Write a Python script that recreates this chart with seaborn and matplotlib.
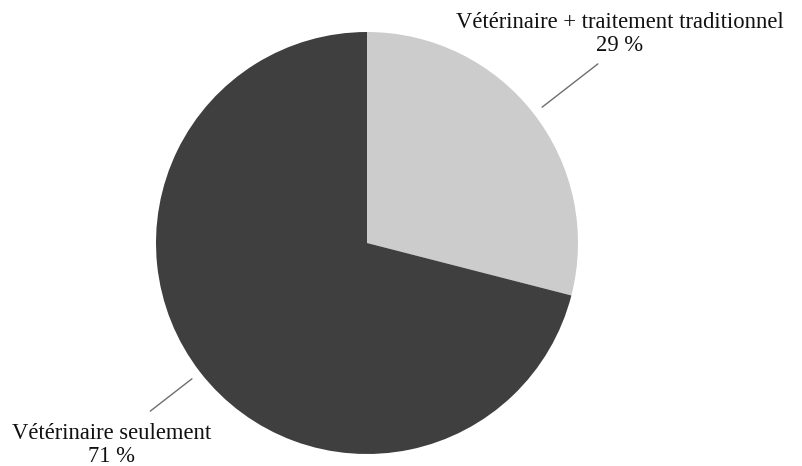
import numpy as np
import matplotlib
matplotlib.use("Agg")
import matplotlib.pyplot as plt
import seaborn as sns

# Data
labels = ["Vétérinaire + traitement traditionnel", "Vétérinaire seulement"]
shares = [29, 71]
colors = ["#cccccc", "#3f3f3f"]

sns.set_theme(style="white")
plt.rcParams["font.family"] = ["Liberation Serif", "DejaVu Serif"]

W, H = 803, 466
fig = plt.figure(figsize=(W / 100, H / 100), dpi=100)

# pie centre and radius in pixels
cx, cy, r = 367, 243, 211
ax = fig.add_axes([(cx - r) / W, 1 - (cy + r) / H, 2 * r / W, 2 * r / H])

wedges, _ = ax.pie(shares, colors=colors, startangle=90, counterclock=False,
                   radius=1, wedgeprops=dict(linewidth=0))
ax.set_xlim(-1, 1)
ax.set_ylim(-1, 1)
ax.set_aspect("equal")
ax.axis("off")

# leader lines and labels
outer = [1.385, 1.30]
text_pos = [(1.199, 0.99), (-1.209, -0.957)]
for w, lab, val, ro, (tx, ty) in zip(wedges, labels, shares, outer, text_pos):
    ang = np.deg2rad((w.theta1 + w.theta2) / 2)
    x0, y0 = 1.05 * np.cos(ang), 1.05 * np.sin(ang)
    x1, y1 = ro * np.cos(ang), ro * np.sin(ang)
    ax.plot([x0, x1], [y0, y1], color="#6e6e6e", lw=1.0, clip_on=False)
    ax.text(tx, ty, f"{lab}\n{val} %", ha="center", va="center",
            fontsize=16.3, color="#111111", linespacing=1.1, clip_on=False)

fig.savefig("out.png", dpi=100)
